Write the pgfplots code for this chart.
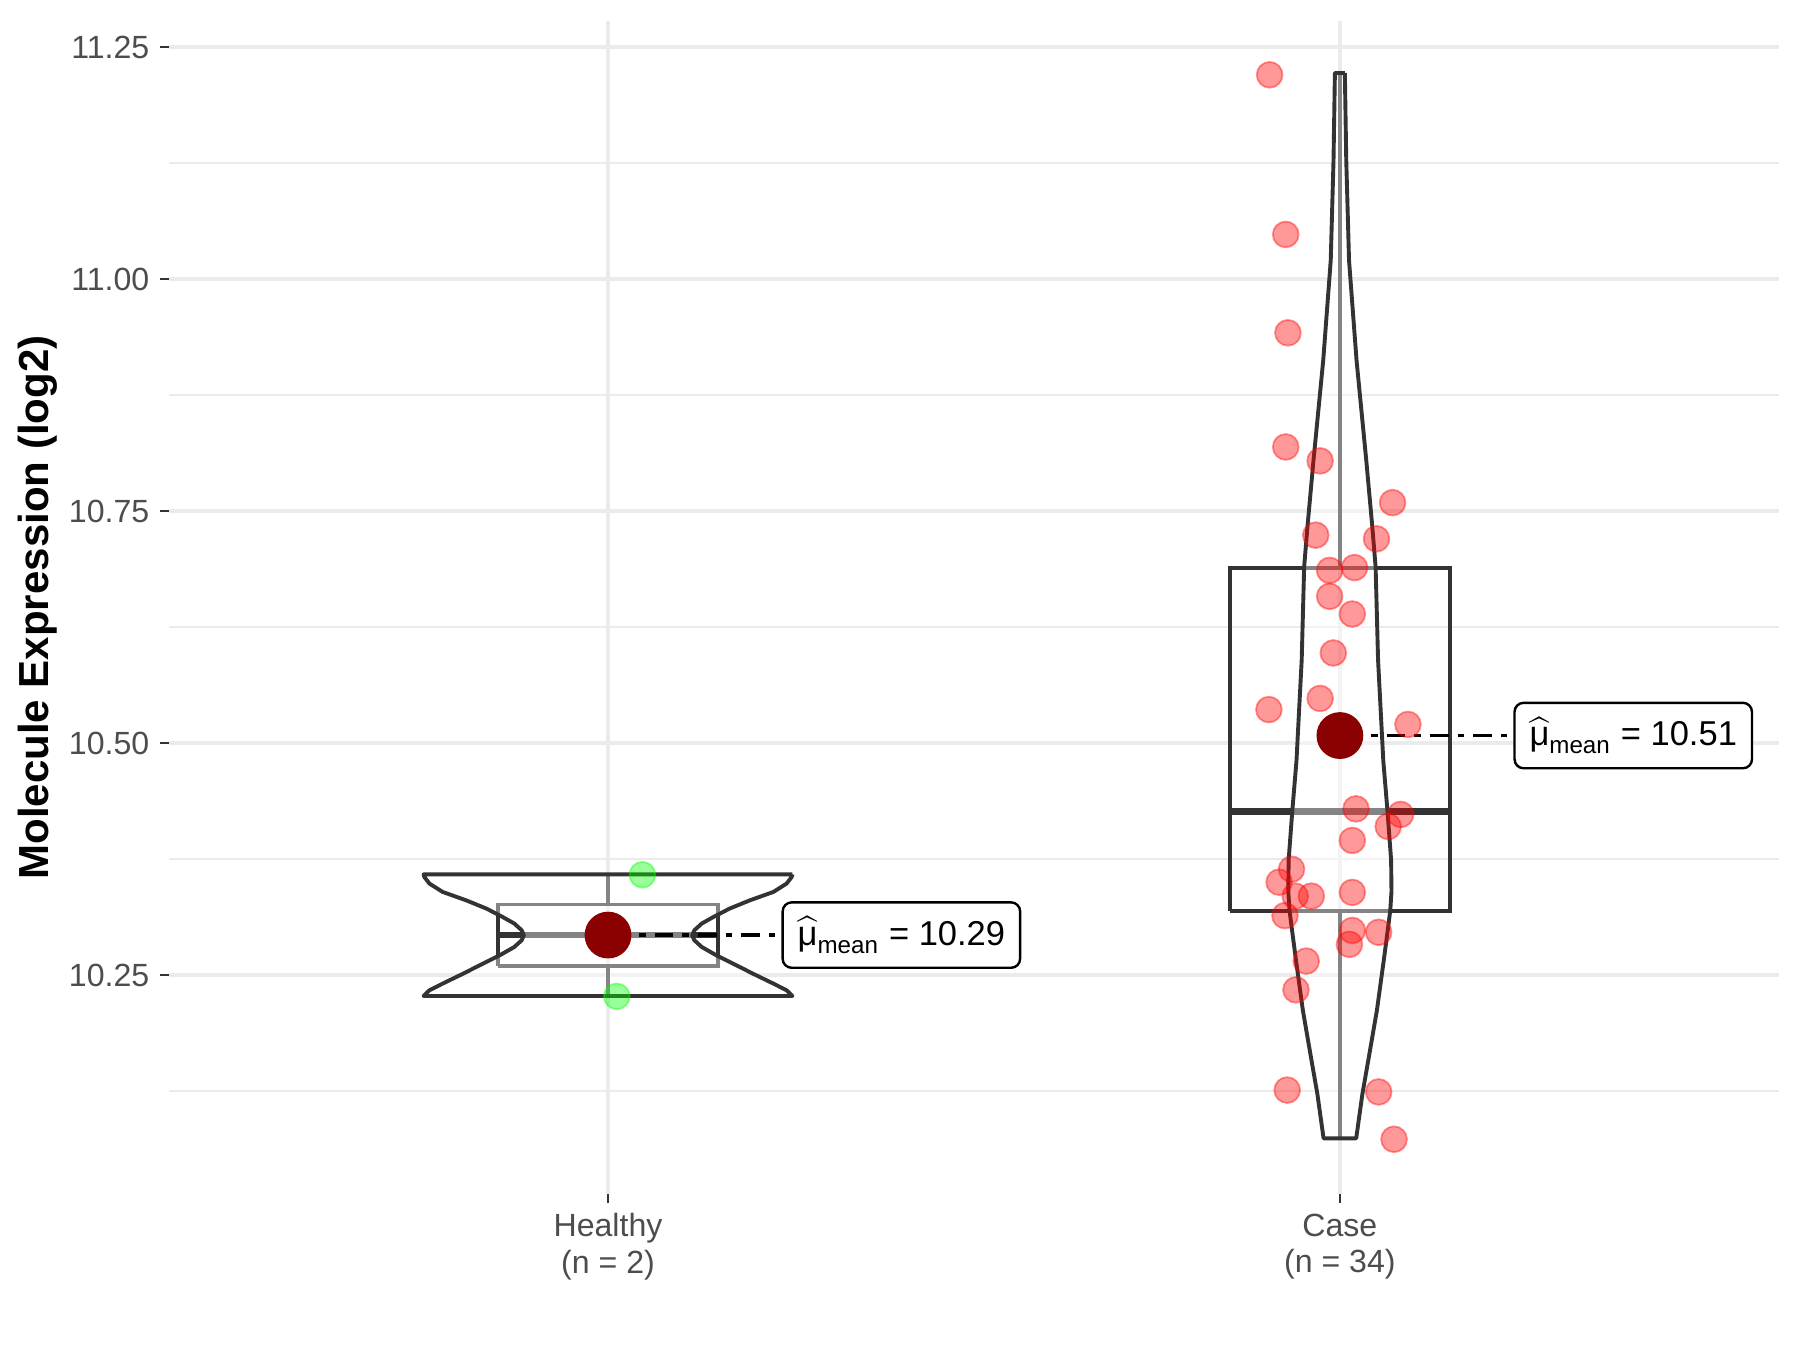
\documentclass[border=0pt]{standalone}
\usepackage{fontspec}
\setmainfont{Liberation Sans}
\usepackage{amsmath}
\usepackage{pgfplots}
\pgfplotsset{compat=1.18}
\definecolor{gridc}{HTML}{EBEBEB}
\definecolor{ink}{HTML}{333333}
\definecolor{tickc}{HTML}{4D4D4D}
\definecolor{meanred}{HTML}{8B0000}
\definecolor{ptred}{HTML}{FF0000}
\definecolor{ptgreen}{HTML}{00FF00}
\begin{document}
\begin{tikzpicture}
\begin{axis}[
  scale only axis, width=536.7pt, height=391pt,
  xmin=0.4, xmax=2.6, ymin=10.014, ymax=11.278,
  axis line style={draw=none},
  xtick={1,2}, xticklabels={{Healthy\\(n = 2)},{Case\\(n = 34)}},
  ytick={10.25,10.5,10.75,11,11.25},
  minor ytick={10.125,10.375,10.625,10.875,11.125},
  yticklabel style={/pgf/number format/.cd, fixed, fixed zerofill, precision=2},
  /pgf/number format/assume math mode=true,
  tick label style={font=\fontsize{10.7}{12.3}\selectfont, text=tickc},
  x tick label style={align=center},
  tick align=outside, xtick pos=bottom, ytick pos=left,
  major tick length=3pt, minor tick length=0pt,
  tick style={draw=ink, line width=0.8pt},
  xmajorgrids, ymajorgrids, yminorgrids,
  major grid style={draw=gridc, line width=1.1pt},
  minor grid style={draw=gridc, line width=0.55pt},
  clip=false,
  ylabel={Molecule Expression (log2)},
  every axis y label/.style={at={(axis description cs:0,0.5)}, xshift=-36.8pt,
    rotate=90, anchor=south, inner sep=0pt,
    font=\bfseries\fontsize{14}{16}\selectfont},
]
% jittered observations
\addplot[only marks, mark=*, mark size=4.3pt,
  mark options={fill=ptgreen, draw=ptgreen, opacity=0.4, line width=0.6pt}]
  coordinates {(1.047,10.358)(1.012,10.227)};
\addplot[only marks, mark=*, mark size=4.3pt,
  mark options={fill=ptred, draw=ptred, opacity=0.4, line width=0.6pt}]
  coordinates {
  (1.904,11.220)(1.926,11.048)(1.929,10.942)(1.926,10.819)(1.973,10.804)
  (2.072,10.759)(1.967,10.724)(2.050,10.720)(1.986,10.686)(2.020,10.689)
  (1.986,10.658)(2.017,10.639)(1.991,10.597)(1.903,10.536)(1.973,10.548)
  (2.093,10.520)(2.022,10.429)(2.083,10.423)(2.066,10.410)(2.017,10.395)
  (1.934,10.364)(1.917,10.350)(1.939,10.335)(1.961,10.335)(2.017,10.339)
  (1.925,10.314)(2.017,10.298)(2.053,10.296)(2.013,10.283)(1.954,10.265)
  (1.940,10.234)(1.928,10.126)(2.053,10.124)(2.074,10.073)};
% whiskers
\addplot[ink, line width=1.1pt] coordinates {(1,10.326)(1,10.358)};
\addplot[ink, line width=1.1pt] coordinates {(1,10.260)(1,10.227)};
\addplot[ink, line width=1.1pt] coordinates {(2,10.689)(2,11.222)};
\addplot[ink, line width=1.1pt] coordinates {(2,10.319)(2,10.074)};
% boxes
\addplot[ink, line width=1.3pt] coordinates {(0.85,10.260)(1.15,10.260)(1.15,10.326)(0.85,10.326)(0.85,10.260)};
\addplot[ink, line width=2.2pt] coordinates {(0.85,10.293)(1.15,10.293)};
\addplot[ink, line width=1.3pt] coordinates {(1.85,10.319)(2.15,10.319)(2.15,10.689)(1.85,10.689)(1.85,10.319)};
\addplot[ink, line width=2.2pt] coordinates {(1.85,10.426)(2.15,10.426)};
% violins
\addplot[draw=ink, line width=1.3pt, line join=round, fill=white, fill opacity=0.4]
  coordinates {
  (1.252,10.3585)(1.251,10.3556)(1.244,10.3485)(1.226,10.3395)(1.194,10.3305)
  (1.166,10.3215)(1.144,10.3125)(1.128,10.3054)(1.118,10.2982)(1.115,10.2928)
  (1.118,10.2874)(1.128,10.2802)(1.148,10.2712)(1.171,10.2622)(1.198,10.2514)
  (1.226,10.2407)(1.244,10.2335)(1.252,10.2274)
  (0.748,10.2274)(0.756,10.2335)(0.774,10.2407)(0.802,10.2514)(0.829,10.2622)
  (0.852,10.2712)(0.872,10.2802)(0.882,10.2874)(0.885,10.2928)(0.882,10.2982)
  (0.872,10.3054)(0.856,10.3125)(0.834,10.3215)(0.806,10.3305)(0.774,10.3395)
  (0.756,10.3485)(0.749,10.3556)(0.748,10.3585)(1.252,10.3585)};
\addplot[draw=ink, line width=1.3pt, line join=round, fill=white, fill opacity=0.4]
  coordinates {
  (2.0068,11.222)(2.0087,11.128)(2.0125,11.020)(2.0228,10.912)(2.036,10.805)
  (2.0443,10.733)(2.0488,10.690)(2.0522,10.589)(2.0593,10.481)(2.065,10.427)
  (2.070,10.374)(2.0705,10.340)(2.0689,10.320)(2.066,10.302)(2.060,10.266)
  (2.0506,10.212)(2.0388,10.158)(2.0308,10.122)(2.0223,10.074)
  (1.9777,10.074)(1.9692,10.122)(1.9612,10.158)(1.9494,10.212)(1.940,10.266)
  (1.934,10.302)(1.9311,10.320)(1.9295,10.340)(1.930,10.374)(1.935,10.427)
  (1.9407,10.481)(1.9478,10.589)(1.9512,10.690)(1.9557,10.733)(1.964,10.805)
  (1.9772,10.912)(1.9875,11.020)(1.9913,11.128)(1.9932,11.222)(2.0068,11.222)};
% means
\addplot[only marks, mark=*, mark size=7.6pt, mark options={fill=meanred, draw=meanred}]
  coordinates {(1,10.293)(2,10.508)};
\addplot[black, line width=1.1pt, dash pattern=on 6.2pt off 3pt on 2.2pt off 3pt]
  coordinates {(1.005,10.293)(1.237,10.293)};
\addplot[black, line width=1.1pt, dash pattern=on 6.2pt off 3pt on 2.2pt off 3pt]
  coordinates {(2.005,10.508)(2.237,10.508)};
\node[draw=black, rounded corners=3pt, fill=white, line width=0.8pt, anchor=west,
  minimum height=21.8pt, inner xsep=5pt, font=\fontsize{11.5}{12}\selectfont]
  at (axis cs:1.237,10.293) {$\widehat{\text{μ}}_{\text{mean}}$ = 10.29};
\node[draw=black, rounded corners=3pt, fill=white, line width=0.8pt, anchor=west,
  minimum height=21.8pt, inner xsep=5pt, font=\fontsize{11.5}{12}\selectfont]
  at (axis cs:2.237,10.508) {$\widehat{\text{μ}}_{\text{mean}}$ = 10.51};
\end{axis}
\pgfresetboundingbox
\path[use as bounding box] (-56.3pt,-52pt) rectangle (543.7pt,398pt);
\end{tikzpicture}
\end{document}
